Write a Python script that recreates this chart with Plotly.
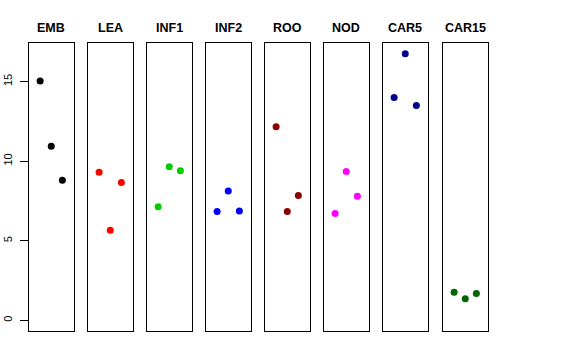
import plotly.graph_objects as go

tissues = ["EMB", "LEA", "INF1", "INF2", "ROO", "NOD", "CAR5", "CAR15"]
colors = ["#000000", "#FF0000", "#00CD00", "#0000FF", "#8B0000", "#FF00FF", "#00008B", "#006400"]
rep_x = [1, 2, 3]
values = {
    "EMB":   [15.03, 10.94, 8.80],
    "LEA":   [9.30, 5.66, 8.66],
    "INF1":  [7.13, 9.64, 9.39],
    "INF2":  [6.83, 8.13, 6.87],
    "ROO":   [12.16, 6.83, 7.84],
    "NOD":   [6.71, 9.35, 7.80],
    "CAR5":  [14.00, 16.75, 13.50],
    "CAR15": [1.76, 1.36, 1.68],
}
y_ticks = [0, 5, 10, 15]
y_lim = [0, 16.75]

W, H = 576, 360
panel_left = [29, 88, 147, 206, 265, 324, 383, 443]
panel_w = 44.5
top, bottom = 43, 331

pad = (y_lim[1] - y_lim[0]) * 0.04
yr = [y_lim[0] - pad, y_lim[1] + pad]

fig = go.Figure()
layout = dict(
    width=W, height=H, margin=dict(l=0, r=0, t=0, b=0, autoexpand=False),
    paper_bgcolor="white", plot_bgcolor="white", showlegend=False,
    font=dict(family="Liberation Sans, Arial, sans-serif", color="black"),
)
annotations = []
for i, (t, c) in enumerate(zip(tissues, colors)):
    n = "" if i == 0 else str(i + 1)
    fig.add_trace(go.Scatter(
        x=rep_x, y=values[t], mode="markers",
        marker=dict(color=c, size=7, line=dict(width=0)),
        xaxis="x" + n, yaxis="y" + n,
    ))
    x0 = panel_left[i] / W
    x1 = (panel_left[i] + panel_w) / W
    layout["xaxis" + n] = dict(
        domain=[x0, x1], range=[0, 4], anchor="y" + n, automargin=False,
        showline=True, mirror=True, linecolor="black", linewidth=1,
        showgrid=False, zeroline=False, showticklabels=False, ticks="",
    )
    ya = dict(
        domain=[1 - bottom / H, 1 - top / H], range=yr, anchor="x" + n,
        automargin=False,
        showline=True, mirror=True, linecolor="black", linewidth=1,
        showgrid=False, zeroline=False,
    )
    if i == 0:
        ya.update(tickvals=y_ticks, ticktext=[str(v) for v in y_ticks],
                  ticks="outside", ticklen=8, tickcolor="black", tickwidth=1,
                  tickangle=-90, tickfont=dict(size=11, color="black"),
                  ticklabelstandoff=4)
    else:
        ya.update(showticklabels=False, ticks="")
    layout["yaxis" + n] = ya
    annotations.append(dict(
        x=(x0 + x1) / 2, y=1 - 28.5 / H, xref="paper", yref="paper",
        text="<b>" + t + "</b>", showarrow=False,
        font=dict(size=12.5, color="black"), xanchor="center", yanchor="middle",
    ))
layout["annotations"] = annotations
fig.update_layout(**layout)
fig.write_html("out.html", post_script="document.body.style.margin='0';",
               config={"displayModeBar": False})
